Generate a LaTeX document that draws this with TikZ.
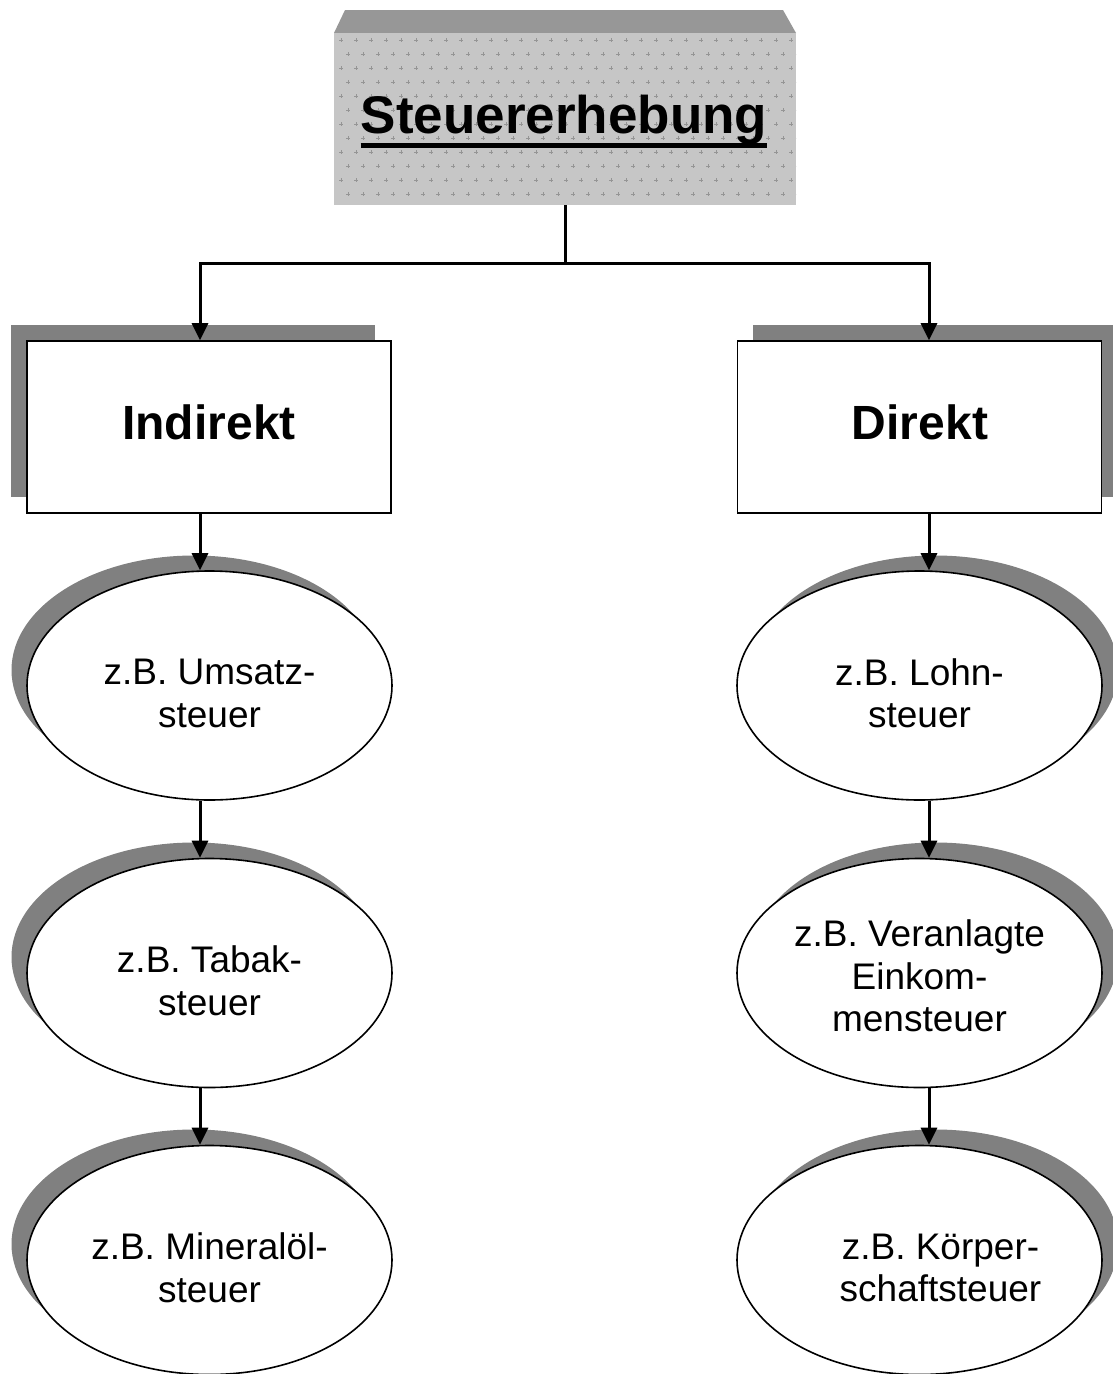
\documentclass[tikz,border=0pt]{standalone}
\usepackage{fontspec}
\setmainfont{Liberation Sans}
\usetikzlibrary{arrows.meta,shapes.geometric,calc}

\definecolor{shadowgray}{HTML}{808080}
\definecolor{bevelgray}{HTML}{979797}
\definecolor{stipplebase}{HTML}{C6C6C6}
\definecolor{stipplemark}{HTML}{959595}

\tikzset{
  box/.style={draw=black, line width=1.6pt, fill=white, rectangle,
    minimum width=364pt, minimum height=172pt, inner sep=0pt},
  boxshadow/.style={fill=shadowgray, rectangle,
    minimum width=364pt, minimum height=172pt, inner sep=0pt},
  oval/.style={draw=black, line width=1.6pt, fill=white, ellipse,
    minimum width=365pt, minimum height=229pt, inner sep=0pt},
  ovalshadow/.style={fill=shadowgray, ellipse,
    minimum width=365pt, minimum height=229pt, inner sep=0pt},
  ovaltext/.style={align=center, font=\fontsize{37}{42.5}\selectfont, inner sep=0pt},
  boxtext/.style={font=\fontsize{48}{56}\selectfont\bfseries, inner sep=0pt, anchor=base},
  link/.style={line width=3pt, draw=black},
  arrow/.style={link, -{Triangle[width=16pt,length=17pt]}},
  plusmark/.style={draw=stipplemark, line width=0.9pt}
}

\begin{document}
\begin{tikzpicture}[x=1pt,y=-1pt]
  \useasboundingbox (0,0) rectangle (1112,1374);

  % column lines of the connectors
  \coordinate (lx) at (200,0);
  \coordinate (rx) at (929,0);
  \coordinate (hub) at (565,263);

  % ---- title block with bevel and stippled face ----
  \fill[bevelgray] (345,10) -- (783,10) -- (796,33) -- (334,33) -- cycle;
  \node[rectangle, fill=stipplebase, minimum width=462pt, minimum height=172pt,
        inner sep=0pt] (top) at (565,119) {};
  \begin{scope}
    \clip (334,33) rectangle (796,205);
    \foreach \i in {0,...,31} {
      \foreach \j [evaluate=\j as \px using {341+15*\i+7*mod(\j,2)},
                   evaluate=\j as \py using {40+14*\j}] in {0,...,12} {
        \draw[plusmark] (\px,\py) +(-1.8,0) -- +(1.8,0) +(0,-1.8) -- +(0,1.8);
      }
    }
  \end{scope}
  \node[font=\fontsize{53}{60}\selectfont\bfseries, inner sep=0pt, anchor=base]
    (title) at (564,133) {Steuererhebung};
  \draw[line width=4.5pt] ([yshift=-12.5pt]title.base west) -- ([yshift=-12.5pt]title.base east);

  % ---- category boxes ----
  \node[boxshadow] at (193,411) {};
  \node[box] (ind) at (209,427) {};
  \node[boxtext] at (209,439) {Indirekt};

  \node[boxshadow] at (935,411) {};
  \node[box] (dir) at (919.5,427) {};
  \node[boxtext] at (920,439) {Direkt};

  % ---- example ovals, left column ----
  \node[ovalshadow] at (194,670) {};
  \node[oval] (e1) at (209.5,685.5) {};
  \node[ovaltext] at ($(e1)+(0,8)$) {z.B. Umsatz-\\steuer};

  \node[ovalshadow] at (194,957) {};
  \node[oval] (e2) at (209.5,973) {};
  \node[ovaltext] at ($(e2)+(0,8)$) {z.B. Tabak-\\steuer};

  \node[ovalshadow] at (194,1244) {};
  \node[oval] (e3) at (209.5,1260) {};
  \node[ovaltext] at ($(e3)+(0,8)$) {z.B. Mineralöl-\\steuer};

  % ---- example ovals, right column ----
  \node[ovalshadow] at (935.5,670) {};
  \node[oval] (e4) at (919.5,685.5) {};
  \node[ovaltext] at ($(e4)+(0,8)$) {z.B. Lohn-\\steuer};

  \node[ovalshadow] at (935.5,957) {};
  \node[oval] (e5) at (919.5,973) {};
  \node[ovaltext] at ($(e5)+(0,3)$) {z.B. Veranlagte\\Einkom-\\mensteuer};

  \node[ovalshadow] at (935.5,1244) {};
  \node[oval] (e6) at (919.5,1260) {};
  \node[ovaltext] at ($(e6)+(21,8)$) {z.B. Körper-\\schaftsteuer};
  % white patch over the lower right rim of the last oval
  \fill[white] (1075,1323) -- (1091,1306) -- (1112,1298) -- (1112,1374) -- (1075,1374) -- cycle;

  % ---- connectors ----
  \draw[link] (top.south) -- (hub);
  \draw[arrow] (hub) -| (ind.north -| lx);
  \draw[arrow] (hub) -| (dir.north -| rx);

  \draw[arrow] (ind.south -| lx) -- (e1.north -| lx);
  \draw[arrow] (e1.south -| lx) -- (e2.north -| lx);
  \draw[arrow] (e2.south -| lx) -- (e3.north -| lx);

  \draw[arrow] (dir.south -| rx) -- (e4.north -| rx);
  \draw[arrow] (e4.south -| rx) -- (e5.north -| rx);
  \draw[arrow] (e5.south -| rx) -- (e6.north -| rx);
\end{tikzpicture}
\end{document}
